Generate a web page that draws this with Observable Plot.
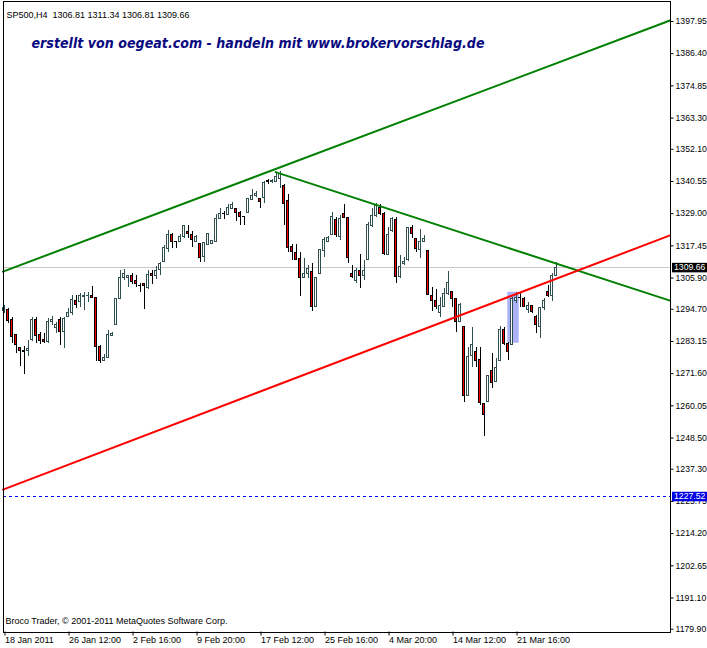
<!DOCTYPE html>
<html><head><meta charset="utf-8">
<script src="https://cdn.jsdelivr.net/npm/d3@7"></script>
<script src="https://cdn.jsdelivr.net/npm/@observablehq/plot@0.6"></script>
<style>body{margin:0;background:#fff}</style>
</head><body><div id="chart"></div>
<script>
// SP500 H4 candles (bar index = position in arrays)
const opens = [1293.9,1294.5,1290.7,1285.3,1280.9,1279.9,1279.8,1283.5,1291.0,1285.3,
1283.5,1282.9,1290.0,1288.0,1290.9,1286.5,1291.8,1293.4,1297.5,1297.2,
1299.0,1299.3,1299.6,1298.8,1281.3,1276.3,1277.3,1285.0,1289.1,1298.4,
1305.8,1306.0,1306.5,1304.7,1303.1,1303.6,1302.3,1307.2,1306.8,1308.8,
1311.6,1316.4,1321.4,1318.9,1319.0,1320.5,1322.3,1321.5,1318.8,1318.2,
1313.4,1317.9,1318.2,1319.0,1327.2,1328.9,1328.6,1330.7,1330.5,1329.3,
1327.8,1329.3,1334.0,1335.3,1334.3,1334.7,1340.6,1340.3,1340.5,1341.6,
1339.1,1333.7,1317.2,1314.9,1312.8,1305.8,1307.4,1308.0,1295.4,1307.4,
1315.5,1319.0,1321.4,1326.9,1320.5,1328.7,1327.4,1307.2,1305.0,1308.5,
1306.6,1312.4,1324.5,1328.3,1331.0,1328.9,1314.2,1322.6,1326.9,1306.2,
1311.0,1312.2,1323.9,1320.0,1315.8,1319.0,1315.5,1299.6,1297.5,1293.4,
1295.4,1300.3,1300.8,1298.4,1290.3,1288.3,1263.7,1277.9,1279.3,1276.6,
1260.8,1261.4,1272.5,1268.5,1276.3,1287.1,1282.3,1281.7,1297.8,1298.7,
1298.2,1294.6,1295.7,1292.1,1288.5,1295.2,1300.8,1299.6,1306.81];
const highs = [1296.1,1295.0,1291.6,1285.6,1281.1,1281.3,1283.5,1291.7,1291.6,1286.5,
1286.1,1291.4,1292.1,1290.0,1291.6,1291.6,1294.9,1299.6,1299.6,1300.5,
1300.8,1300.8,1302.9,1298.9,1281.7,1278.5,1287.1,1286.4,1298.5,1308.6,
1308.8,1306.8,1307.4,1306.8,1303.8,1303.8,1308.6,1308.6,1310.0,1311.4,
1317.6,1323.0,1321.8,1319.0,1321.4,1324.8,1324.8,1322.7,1321.1,1318.4,
1318.7,1322.0,1319.4,1328.6,1330.7,1329.8,1332.2,1332.9,1330.6,1329.8,
1327.9,1334.3,1337.7,1337.0,1334.5,1340.6,1341.1,1341.3,1343.8,1344.1,
1339.3,1335.8,1317.8,1317.8,1314.9,1312.8,1310.4,1311.0,1306.1,1315.9,
1320.5,1320.9,1329.5,1327.7,1328.3,1332.2,1327.7,1310.4,1309.2,1314.2,
1312.2,1325.9,1331.0,1332.5,1332.2,1329.5,1324.1,1327.7,1327.7,1314.0,
1313.4,1324.1,1324.8,1320.2,1323.2,1321.2,1315.6,1302.6,1301.8,1299.0,
1302.0,1308.2,1301.1,1298.7,1296.6,1288.4,1281.1,1288.3,1281.1,1281.1,
1260.9,1270.9,1278.7,1276.9,1288.6,1288.3,1282.9,1298.9,1300.6,1300.2,
1299.0,1297.2,1296.1,1292.5,1295.4,1298.5,1303.2,1307.4,1311.34];
const lows = [1293.2,1289.7,1282.5,1278.7,1274.2,1271.2,1277.7,1283.1,1282.5,1281.9,
1282.3,1282.4,1288.9,1286.1,1281.7,1280.7,1291.6,1292.5,1294.9,1295.4,
1294.2,1297.2,1298.6,1276.1,1275.1,1276.0,1276.9,1284.9,1288.9,1298.2,
1305.0,1302.4,1303.5,1302.4,1300.6,1294.6,1301.8,1303.5,1305.3,1306.8,
1311.4,1315.1,1316.6,1316.4,1318.5,1320.2,1320.0,1317.0,1318.5,1311.6,
1311.6,1317.6,1317.9,1318.8,1326.9,1326.9,1328.3,1330.5,1326.3,1324.8,
1324.8,1329.0,1333.7,1334.9,1331.0,1332.5,1339.4,1339.7,1340.2,1338.0,
1324.8,1314.9,1312.2,1312.2,1299.4,1305.6,1305.6,1293.9,1295.3,1307.3,
1313.4,1318.5,1321.2,1320.5,1319.4,1327.2,1311.0,1305.6,1303.8,1302.3,
1305.0,1312.2,1324.1,1327.7,1328.3,1314.0,1314.0,1322.3,1303.8,1305.6,
1310.4,1311.9,1320.0,1314.9,1312.8,1318.5,1299.6,1293.9,1294.6,1291.8,
1295.3,1299.6,1295.4,1286.5,1290.0,1261.1,1263.6,1273.9,1273.9,1260.2,
1249.2,1261.1,1266.4,1268.4,1276.2,1281.7,1276.3,1281.6,1296.7,1295.4,
1295.3,1293.1,1293.1,1286.1,1284.1,1294.2,1298.9,1297.6,1306.81];
const closes = [1295.0,1290.4,1284.7,1281.9,1279.7,1279.4,1280.3,1290.9,1285.0,1283.2,
1282.8,1290.3,1290.9,1289.1,1286.5,1291.3,1293.4,1297.9,1296.4,1299.6,
1299.4,1299.6,1298.8,1281.1,1276.1,1277.3,1285.3,1285.9,1298.2,1306.0,
1307.4,1306.5,1304.4,1303.8,1302.9,1302.9,1307.1,1306.8,1308.6,1310.8,
1316.6,1321.4,1318.8,1318.7,1320.5,1324.5,1321.6,1319.7,1320.8,1313.2,
1318.5,1321.8,1319.1,1327.2,1329.0,1328.8,1331.2,1332.2,1329.3,1327.7,
1327.7,1334.1,1335.2,1336.1,1333.1,1340.1,1340.5,1340.6,1342.3,1343.4,
1332.5,1316.6,1315.4,1312.5,1305.8,1307.4,1309.0,1295.4,1306.0,1315.8,
1319.4,1320.2,1327.7,1321.2,1327.2,1327.6,1313.0,1306.2,1308.6,1306.6,
1308.6,1324.8,1328.3,1331.9,1328.9,1314.6,1321.4,1327.2,1306.2,1310.0,
1311.8,1323.8,1321.8,1316.4,1318.8,1320.0,1299.9,1297.5,1295.4,1295.8,
1300.3,1304.2,1298.4,1290.3,1296.3,1263.7,1277.5,1281.9,1276.3,1261.1,
1256.8,1270.7,1268.3,1273.5,1287.1,1282.3,1279.5,1298.4,1298.7,1298.6,
1295.4,1296.0,1293.6,1289.1,1295.2,1297.5,1299.4,1306.8,1309.66];

const xTickBars = [0,16,32,48,64,80,96,112,128];
const xTickLabels = ["18 Jan 2011","26 Jan 12:00","2 Feb 16:00","9 Feb 20:00","17 Feb 12:00","25 Feb 16:00","4 Mar 20:00","14 Mar 12:00","21 Mar 16:00"];
const yTicks = [1397.95,1386.40,1374.85,1363.30,1352.10,1340.55,1329.00,1317.45,1305.90,1294.70,1283.15,1271.60,1260.05,1248.50,1237.30,1225.75,1214.20,1202.65,1191.10,1179.90];

// trend lines (bar index, price)
const upperBars = [-0.25, 166.5];
const upperPrices = [1308.2, 1398.3];
const downBars = [67.9, 166.5];
const downPrices = [1343.9, 1297.8];
const redBars = [-0.25, 166.5];
const redPrices = [1230.0, 1321.2];
// highlight rectangle
const boxBars = [125.95, 128.8];
const boxPrices = [1282.5, 1300.8];
const lastClose = 1309.66;
const alertLevel = 1227.52;
const headerText = "SP500,H4  1306.81 1311.34 1306.81 1309.66";
const brandText = "erstellt von oegeat.com - handeln mit www.brokervorschlag.de";
const footerText = "Broco Trader, © 2001-2011 MetaQuotes Software Corp.";

const candles = opens.map((o,i)=>({i, open:o, high:highs[i], low:lows[i], close:closes[i]}));
const toLine = (bs, ps) => bs.map((b,k)=>({i:b, p:ps[k]}));
const bull = "#2f4f4f";

const chart = Plot.plot({
  width:707, height:648,
  marginLeft:2.5, marginRight:37.5, marginTop:0.5, marginBottom:16.5,
  style:{fontFamily:"'Liberation Sans', Arial, sans-serif", fontSize:"9px", background:"#fff", color:"#000"},
  x:{domain:[-0.25,166.5]},
  y:{domain:[1178.90,1405.30]},
  marks:[
    Plot.rect([{}], {x1:()=>boxBars[0], x2:()=>boxBars[1], y1:()=>boxPrices[0], y2:()=>boxPrices[1], fill:"#adb1f7"}),
    Plot.ruleY([lastClose], {stroke:"#c8c8c8", shapeRendering:"crispEdges"}),
    Plot.ruleY([alertLevel], {stroke:"#0000ff", strokeDasharray:"3,3", shapeRendering:"crispEdges"}),
    Plot.ruleX(candles, {x:"i", y1:"low", y2:"high", stroke:d=>d.close>d.open?bull:"#000", shapeRendering:"crispEdges"}),
    Plot.rect(candles, {x1:d=>d.i-0.25, x2:d=>d.i+0.25, y1:"open", y2:"close",
      fill:d=>d.close>d.open?"#fff":"#ff0000", stroke:d=>d.close>d.open?bull:"#000", shapeRendering:"crispEdges"}),
    Plot.line(toLine(upperBars, upperPrices), {x:"i", y:"p", stroke:"#008000", strokeWidth:2}),
    Plot.line(toLine(downBars, downPrices), {x:"i", y:"p", stroke:"#008000", strokeWidth:2}),
    Plot.line(toLine(redBars, redPrices), {x:"i", y:"p", stroke:"#ff0000", strokeWidth:2}),
    Plot.frame({stroke:"#000", shapeRendering:"crispEdges"}),
    Plot.axisX({ticks:xTickBars, tickFormat:d=>xTickLabels[xTickBars.indexOf(d)], tickSize:4, tickPadding:1, textAnchor:"start", dx:1, label:null}),
    Plot.axisY({anchor:"right", ticks:yTicks, tickFormat:d=>d.toFixed(2), tickSize:3, tickPadding:2.5, fontSize:8.7, label:null}),
    Plot.text([headerText], {text:d=>d, frameAnchor:"top-left", dx:3.5, dy:11, textAnchor:"start", fill:"#000"}),
    Plot.text([brandText], {text:d=>d, frameAnchor:"top-left", dx:28.5, dy:37, textAnchor:"start", fill:"#0a0a80",
      fontWeight:"bold", fontStyle:"italic", fontFamily:"DejaVu Sans", fontSize:14, className:"brand"}),
    Plot.text([footerText], {text:d=>d, frameAnchor:"bottom-left", dx:2.5, dy:-8.5, textAnchor:"start", fill:"#000"}),
    Plot.text([lastClose], {y:d=>d, text:d=>d.toFixed(2), frameAnchor:"right", dx:4, textAnchor:"start", fill:"#fff", fontSize:8.7, className:"lbl-black"}),
    Plot.text([alertLevel], {y:d=>d, text:d=>d.toFixed(2), frameAnchor:"right", dx:4, textAnchor:"start", fill:"#fff", fontSize:8.7, className:"lbl-blue"})
  ]
});
document.getElementById("chart").appendChild(chart);
const svg = d3.select(chart);
svg.selectAll("g.brand text").attr("textLength", 453).attr("lengthAdjust","spacingAndGlyphs");
[["g.lbl-black","#000"],["g.lbl-blue","#0000e6"]].forEach(([sel,col])=>{
  svg.selectAll(sel+" text").each(function(){
    const b = this.getBBox();
    const r = d3.select(this.parentNode).insert("rect", ":first-child")
      .attr("x", b.x-2).attr("y", b.y+b.height/2-4.5)
      .attr("width", b.width+6).attr("height", 9.5).attr("fill", col);
    const t = this.getAttribute("transform");
    if (t) r.attr("transform", t);
  });
});
</script></body></html>
